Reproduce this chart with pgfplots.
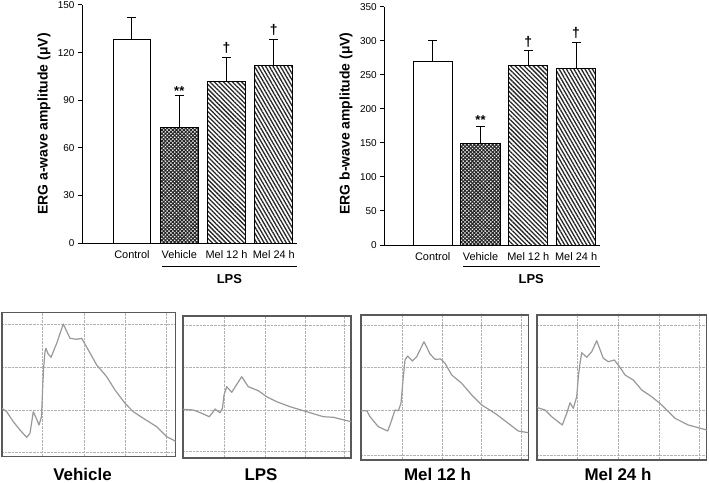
\documentclass[border=0pt]{standalone}
\usepackage{fontspec}
\setmainfont{Liberation Sans}
\usepackage{pgfplots}
\pgfplotsset{compat=1.18}
\usetikzlibrary{patterns.meta}
\tikzset{dag/.style={font=\bfseries\fontsize{14}{14}\selectfont}}
\begin{document}
\begin{tikzpicture}[x=1bp,y=1bp]
\path[use as bounding box, fill=white] (0,0) rectangle (709,-483);
\pgfplotsset{
  barax/.style={
    scale only axis, clip=false,
    axis x line*=bottom, axis y line*=left,
    axis line style={line width=1bp, -},
    xtick={0,1,2,3}, xticklabels={Control,Vehicle,Mel 12 h,Mel 24 h},
    xtick style={draw=none},
    ytick style={line width=1bp, black},
    tick align=outside, major tick length=4bp,
    /pgf/number format/assume math mode=true,
    yticklabel style={font=\fontsize{10}{12}\selectfont},
    xticklabel style={font=\fontsize{11}{13}\selectfont},
    ylabel style={font=\bfseries\fontsize{14}{16}\selectfont, anchor=center},
    ymin=0,
  },
  bstyle/.style={ybar, bar width=0.8, draw=black, line width=1bp,
    error bars/y dir=plus, error bars/y explicit,
    error bars/error bar style={line width=1bp, black, solid},
    error bars/error mark options={rotate=90, black, line width=1bp, mark size=4.5bp}},
  panel/.style={scale only axis, axis line style={draw=black!65, line width=1.4bp},
    xmin=0, ymin=0, xticklabels={}, yticklabels={}, major tick length=0pt,
    grid=major, major grid style={densely dotted, black!30, line width=0.6bp}},
  trace/.style={black!40, line width=1.2bp, no marks, line join=round},
}
% ---------- a-wave ----------
\begin{axis}[barax, at={(82bp,-243bp)}, anchor=south west, width=215bp, height=238bp,
  xmin=-1.057, xmax=3.49, ymax=150, ytick={0,30,60,90,120,150},
  ylabel={ERG a-wave amplitude (μV)},
  ylabel style={at={(axis description cs:-0.177,0.5)}}]
\addplot[bstyle, fill=white] coordinates {(0,128) +- (0,14)};
\addplot[bstyle, pattern={Hatch[angle=45,distance=2.6bp,line width=1.1bp]}, pattern color=black!85] coordinates {(1,73) +- (0,20)};
\addplot[bstyle, pattern={Lines[angle=-45,distance=3.2bp,line width=1.3bp]}, pattern color=black!85] coordinates {(2,102) +- (0,15)};
\addplot[bstyle, pattern={Lines[angle=-60,distance=3.2bp,line width=1.3bp]}, pattern color=black!85] coordinates {(3,112) +- (0,16)};
\node[font=\bfseries\fontsize{13}{13}\selectfont] at (axis cs:1,96) {**};
\node[dag] at (axis cs:2,123) {†};
\node[dag] at (axis cs:3,134) {†};
\draw[line width=1bp] (axis cs:0.634,-15.1) -- (axis cs:3.49,-15.1);
\node[font=\bfseries\fontsize{13}{15}\selectfont] at (axis cs:2.06,-23) {LPS};
\end{axis}
% ---------- b-wave ----------
\begin{axis}[barax, at={(384.3bp,-245bp)}, anchor=south west, width=215.7bp, height=238.3bp,
  xmin=-1.013, xmax=3.5, ymax=350, ytick={0,50,100,150,200,250,300,350},
  ylabel={ERG b-wave amplitude (μV)},
  ylabel style={at={(axis description cs:-0.178,0.51)}}]
\addplot[bstyle, bar width=0.82, fill=white] coordinates {(0,270) +- (0,30)};
\addplot[bstyle, bar width=0.82, pattern={Hatch[angle=45,distance=2.6bp,line width=1.1bp]}, pattern color=black!85] coordinates {(1,149) +- (0,25)};
\addplot[bstyle, bar width=0.82, pattern={Lines[angle=-45,distance=3.2bp,line width=1.3bp]}, pattern color=black!85] coordinates {(2,264) +- (0,22)};
\addplot[bstyle, bar width=0.82, pattern={Lines[angle=-60,distance=3.2bp,line width=1.3bp]}, pattern color=black!85] coordinates {(3,259) +- (0,39)};
\node[font=\bfseries\fontsize{13}{13}\selectfont] at (axis cs:1,184) {**};
\node[dag] at (axis cs:2,298) {†};
\node[dag] at (axis cs:3,311) {†};
\draw[line width=1bp] (axis cs:0.634,-32.3) -- (axis cs:3.5,-32.3);
\node[font=\bfseries\fontsize{13}{15}\selectfont] at (axis cs:2.06,-50) {LPS};
\end{axis}
% ---------- panel 1 ----------
\begin{axis}[panel, at={(2bp,-456.7bp)}, anchor=south west, width=173.7bp, height=144bp,
  xmax=173.7, ymax=144, xtick={40.7,82,123,164.7}, ytick={4.7,46.7,89.4,132.4}]
\addplot[trace] coordinates {(0,48.4)(4.7,45)(11.3,35)(18,26.7)(24.7,19.4)(28,23.4)(31.3,45)(34.5,38)(37,31.7)(39.5,40)(40.7,70)(41.7,90)(43,105)(44,108.4)(46,103)(49,99.4)(54.7,113.4)(61.3,132.7)(68,118.4)(74.7,117.4)(79.7,118.4)(86.3,106.7)(94.7,91.7)(104.7,80)(113,66.7)(123,53.4)(131.3,45)(141.3,38.4)(154.7,30)(164.7,20)(171.3,16.7)(173.7,15)};
\end{axis}
% ---------- panel 2 ----------
\begin{axis}[panel, at={(183bp,-458bp)}, anchor=south west, width=168bp, height=142bp,
  xmax=168, ymax=142, xtick={41,82,122,161.3}, ytick={6.3,48,90.7,133}]
\addplot[trace] coordinates {(0,48.7)(10.3,48)(18.7,44.7)(26.3,41.3)(30,46)(32,49)(37,45.3)(39.5,50)(41,63)(43.7,71.3)(48.7,65.7)(58.7,81.3)(65.3,71.3)(75.3,67.3)(83.7,61.3)(93.7,56.3)(107,51.3)(123.7,46.3)(140.3,41.3)(150.3,40.7)(165.3,37)(168,36.3)};
\end{axis}
% ---------- panel 3 ----------
\begin{axis}[panel, at={(361bp,-460bp)}, anchor=south west, width=167.7bp, height=145bp,
  xmax=167.7, ymax=145, xtick={41.7,81.7,120.7,160.7}, ytick={4.3,50,92.3,135}]
\addplot[trace] coordinates {(0,49.3)(5.7,49.3)(9,43.3)(17.3,33.3)(26.7,29)(30.7,40)(34,50)(37.3,49.3)(40,56.7)(42,80)(44,100)(46.7,104)(51.3,99)(55.7,103.3)(63,118.3)(69,106)(74,100.7)(79.7,101)(84,96.7)(90.7,85)(100.7,76.7)(110.7,65)(120.7,55)(134,46.7)(147.3,36.7)(157.3,29)(167.3,27.3)};
\end{axis}
% ---------- panel 4 ----------
\begin{axis}[panel, at={(537bp,-460bp)}, anchor=south west, width=169.7bp, height=145bp,
  xmax=169.7, ymax=145, xtick={40.7,81.3,122,162.3}, ytick={4.3,50,92.3,135}]
\addplot[trace] coordinates {(0,52.5)(8,50)(14.7,43.3)(25.3,35)(29.7,46.7)(33,57.3)(36.3,51.7)(39.7,63.3)(41.5,85)(43,96.7)(44.7,107.3)(49.7,102.7)(54.7,108.3)(59.7,119.3)(66.3,101.7)(71.3,98.3)(77.3,100)(83,92.7)(88,85)(96.3,80)(104.7,70)(114.7,63.3)(124.7,55)(138,41.7)(151.3,35)(161.3,32.3)(169.7,30)};
\end{axis}
\begin{scope}[font=\bfseries\fontsize{17}{19}\selectfont]
\node[anchor=base] at (82.5,-480.5) {Vehicle};
\node[anchor=base] at (261,-480.5) {LPS};
\node[anchor=base] at (437.5,-480.5) {Mel 12 h};
\node[anchor=base] at (618,-480.5) {Mel 24 h};
\end{scope}
\end{tikzpicture}
\end{document}
